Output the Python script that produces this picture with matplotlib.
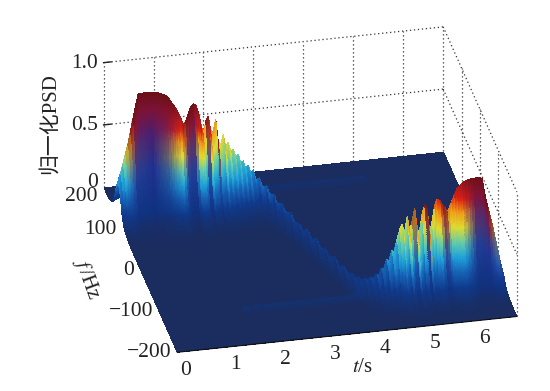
import numpy as np
import matplotlib
matplotlib.use('Agg')
import matplotlib.pyplot as plt
from matplotlib.colors import LinearSegmentedColormap
from mpl_toolkits.mplot3d import proj3d

plt.rcParams['font.family'] = ['Liberation Serif', 'Noto Sans CJK SC']
plt.rcParams['mathtext.fontset'] = 'stix'

# peak height of the ridge, one value every 0.05 s from 0 to 6.8 s
ridge_h = [.30, .38, .46, .54, .62, .72, .82, .92, 1.0,
           1.0, 1.0, 1.0, 1.0, 1.0, 1.0, .99, .99, .98,
           .97, .96, .94, .91, .88, .85, .81, .77, .71,
           .74, .80, .85, .87, .86, .80, .71, .62,
           .72, .76, .64, .63, .73, .55, .52, .60, .50, .53, .46, .47, .41, .43, .36, .37,
           .31, .33, .27, .29, .22, .25, .19, .22, .17, .19, .14, .17, .13, .16, .11, .13,
           .10, .14, .09, .13, .09, .12, .08, .13, .08, .12, .08, .11, .08, .11, .08, .12,
           .10, .14, .12, .18, .15, .22, .20, .29, .27, .36, .33, .45, .52, .56, .48, .62,
           .50, .58, .68, .52, .44, .63, .70, .66, .48, .56, .69, .73, .72, .68, .66, .62,
           .66, .71, .76, .80, .82, .84, .85, .86, .86, .87, .87, .87, .87, .86,
           .74, .65, .57, .49, .39, .30, .20, .12]
# ridge frequency, same time steps
ridge_f = [120] * 55 + [116, 112, 106, 100, 94, 86, 78, 70, 60, 50, 40, 30, 20, 10, 0, -10,
                        -20, -32, -44, -56, -68, -78, -87, -94, -100, -105, -109, -112,
                        -114, -116, -118] + [-120] * 51
# faint streaks on the floor
streak_low_h = [0] * 32 + [.03] * 48 + [0] * 57
streak_low_f = -122
streak_high_h = [0] * 62 + [.025] * 40 + [0] * 35
streak_high_f = 152
# shape of the ridge across frequency
profile_df = [-100, -80, -60, -50, -40, -30, -20, -10, 0, 10, 20, 30, 40, 50, 60, 80, 100]
profile_v = [0, .002, .01, .03, .07, .15, .36, .78, 1, .8, .42, .17, .07, .03, .01, 0, 0]
streak_df = [-12, -6, 0, 6, 12]
streak_v = [0, .6, 1, .6, 0]
# dark stripes down the middle of the lobes
dark_t = [0.1, 0.3, 0.6, 0.9, 1.2, 1.36, 1.45, 1.55, 1.7, 1.75, 1.8, 1.9, 1.95, 2.0,
          4.95, 5.0, 5.05, 5.2, 5.25, 5.32, 5.5, 5.62, 5.72, 5.95, 6.2, 6.45, 6.7]
dark_v = [0, .9, 1, .7, 0, .9, .9, 0, 0, .7, 0, 0, .7, 0,
          0, .5, 0, 0, .8, 0, 0, .9, 0, 0, .9, .95, .3]

t_ticks = [0, 1, 2, 3, 4, 5, 6]
f_ticks = [-200, -100, 0, 100, 200]
f_labels = ['\u2212200', '\u2212100', '0', '100', '200']
z_ticks = [0, 0.5, 1.0]
z_labels = ['0', '0.5', '1.0']

t_max = 6.8
t = np.linspace(0, t_max, len(ridge_h))
# finer rows where the lobes stand, their faces are almost vertical
f = np.concatenate([np.arange(-200, -160, 4), np.arange(-160, -85, 0.5),
                    np.arange(-85, 85, 3), np.arange(85, 150, 0.5), np.arange(150, 201, 3)])
T, F = np.meshgrid(t, f)
H = np.array(ridge_h)
Z = np.array([h * np.interp(f, np.array(profile_df) + c, profile_v) for h, c in zip(H, ridge_f)]).T
for h_list, centre in [(streak_low_h, streak_low_f), (streak_high_h, streak_high_f)]:
    Z = Z + np.outer(np.interp(f, np.array(streak_df) + centre, streak_v), h_list)

jet_dark = LinearSegmentedColormap.from_list('jet_dark', [
    (0, '#1b2c5f'), (.02, '#16306c'), (.1, '#0f3a8c'), (.2, '#1660b4'), (.3, '#1fa0d8'),
    (.4, '#5cc8b0'), (.52, '#dcdc30'), (.63, '#f09a18'), (.73, '#d91f14'),
    (.86, '#8e1420'), (1, '#6b1015')])
lobe_dark = LinearSegmentedColormap.from_list('lobe_dark', [
    (0, '#1b2c5f'), (.15, '#10317f'), (.45, '#1f2f8f'), (.7, '#4a1f70'), (.88, '#7a1238'),
    (1, '#6b1015')])

colors = jet_dark(np.clip(Z, 0, 1))
dark = np.interp(t, dark_t, dark_v)[None, :, None]
colors2 = lobe_dark(np.clip(Z / H[None, :], 0, 1))
colors = colors * (1 - dark) + colors2 * dark

fig = plt.figure(figsize=(5.5, 3.91), dpi=100)
ax = fig.add_axes([27.8 / 550, -81 / 391, 1, 550 / 391], projection='3d', computed_zorder=False)
ax.set_proj_type('ortho')
ax.view_init(elev=29.1, azim=-102.24)
ax.set_box_aspect((1, 1, 0.41), zoom=0.903)
ax.set_xticks([])
ax.set_yticks([])
ax.set_zticks([])
ax.set_xlim(0, t_max)
ax.set_ylim(-200, 200)
ax.set_zlim(0, 1)
ax.set_axis_off()

dot = dict(color='#333333', lw=0.9, ls=(0, (1, 2.2)), zorder=1)
for tk in t_ticks[1:] + [t_max]:
    ax.plot([tk, tk], [200, 200], [0, 1], **dot)
for fk in f_ticks[:-1]:
    ax.plot([t_max, t_max], [fk, fk], [0, 1], **dot)
ax.plot([0, 0], [200, 200], [0, 1], **dot)
for zk in z_ticks[1:]:
    ax.plot([0, t_max], [200, 200], [zk, zk], **dot)
    ax.plot([t_max, t_max], [200, -200], [zk, zk], **dot)
    ax.plot([0, 0.15], [200, 200], [zk, zk], color='#222222', lw=1, zorder=1)

ax.plot_surface(T, F, Z, facecolors=colors, rstride=1, cstride=1, shade=False,
                linewidth=0, antialiased=False, zorder=2)
ax.plot([0, t_max], [-200, -200], [0, 0], color='#111111', lw=0.8, zorder=3)

# tick labels go on the figure, at the projected place of their data point
fig.canvas.draw()


def tick_text(x, y, z, label, ha, dy=0):
    px, py, _ = proj3d.proj_transform(x, y, z, ax.get_proj())
    px, py = ax.transData.transform((px, py))
    fig.text(px / 550, (py - dy) / 391, label, fontsize=15.5, ha=ha, va='center', color='#222222')


for tk in t_ticks:
    tick_text(tk, -243, 0, str(tk), 'center')
for fk, lab in zip(f_ticks, f_labels):
    tick_text(-0.12, fk, 0, lab, 'right', dy=9 if fk == 200 else 0)
for zk, lab in zip(z_ticks, z_labels):
    tick_text(-0.12, 200, zk, lab, 'right', dy=-5 if zk == 0 else 0)

fig.text(362 / 550, 1 - 368 / 391, r'$\mathit{t}$/s', fontsize=15, ha='center', va='center', color='#222222')
fig.text(87 / 550, 1 - 278 / 391, r'$\mathit{f}\,$/Hz', fontsize=15, rotation=-70, ha='center', va='center', color='#222222')
fig.text(50 / 550, 1 - 124 / 391, '归一化PSD', fontsize=15, rotation=90, ha='center', va='center', color='#222222')

fig.savefig('out.png', dpi=100)
